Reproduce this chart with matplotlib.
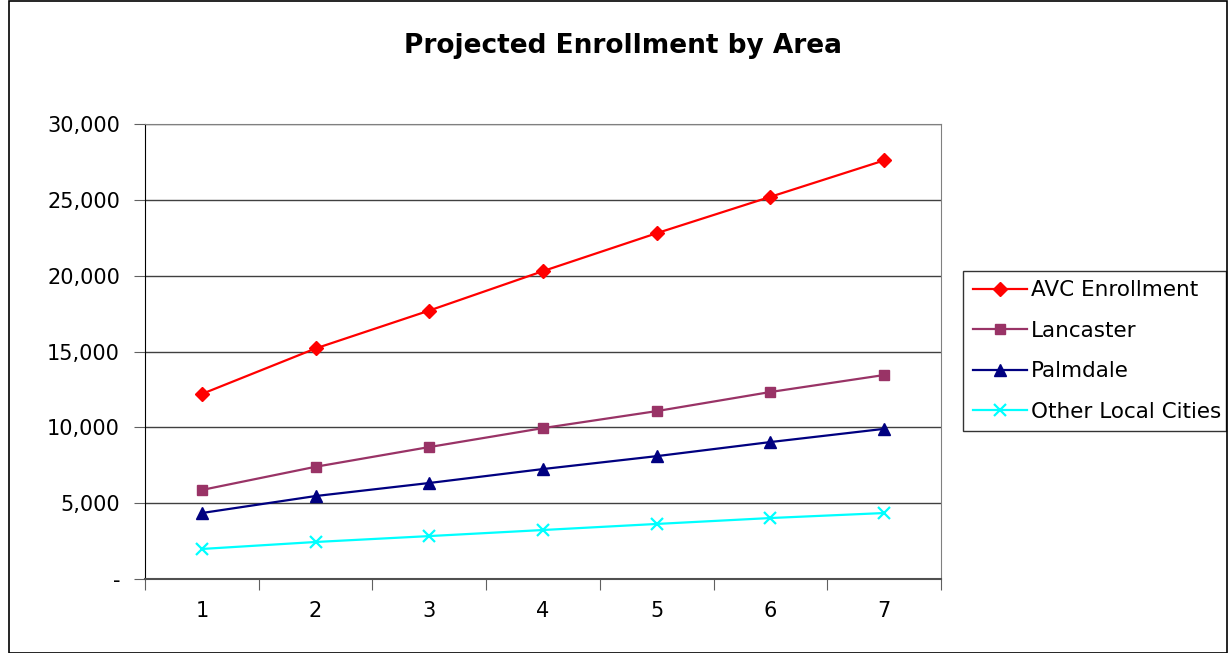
import matplotlib.pyplot as plt
from matplotlib.patches import Rectangle
from matplotlib.ticker import FuncFormatter

years = [1, 2, 3, 4, 5, 6, 7]
avc = [12200, 15200, 17700, 20300, 22800, 25200, 27600]
lancaster = [5870, 7400, 8700, 9950, 11070, 12330, 13450]
palmdale = [4350, 5470, 6330, 7250, 8100, 9030, 9900]
other = [1980, 2440, 2830, 3230, 3630, 4020, 4350]

plt.rcParams['font.family'] = ['DejaVu Sans']

W, H = 1228, 653
fig = plt.figure(figsize=(W / 100, H / 100), dpi=100)
fig.patches.append(Rectangle((9 / W, 0), 1 - 10 / W, 1 - 1 / H, transform=fig.transFigure,
                             fill=False, edgecolor='black', linewidth=1.2))

ax = fig.add_axes([145 / W, 1 - 579 / H, (941 - 145) / W, (579 - 124) / H])

ax.plot(years, avc, color='#ff0000', marker='D', markersize=7, lw=1.6, label='AVC Enrollment')
ax.plot(years, lancaster, color='#993366', marker='s', markersize=7, lw=1.6, label='Lancaster')
ax.plot(years, palmdale, color='#000080', marker='^', markersize=8, lw=1.6, label='Palmdale')
ax.plot(years, other, color='#00ffff', marker='x', markersize=9, mew=1.6, lw=1.6,
        label='Other Local Cities')

ax.set_xlim(0.5, 7.5)
ax.set_ylim(0, 30000)
ax.set_yticks(range(0, 30001, 5000))
ax.yaxis.set_major_formatter(FuncFormatter(lambda v, p: '-' if v == 0 else f'{int(v):,}'))
ax.set_xticks([i + 0.5 for i in range(0, 8)])
ax.set_xticklabels([])
ax.set_xticks(years, minor=True)
ax.set_xticklabels([str(y) for y in years], minor=True)
ax.tick_params(axis='x', which='major', length=8, direction='out', color='#606060')
ax.tick_params(axis='x', which='minor', length=0, labelsize=15, pad=16)
ax.tick_params(axis='y', length=8, direction='out', color='#606060', labelsize=15, pad=10)

ax.grid(axis='y', color='#404040', lw=1)
ax.set_axisbelow(True)
for s in ['top', 'right']:
    ax.spines[s].set_color('#808080')
ax.spines['bottom'].set_color('#505050')
ax.spines['bottom'].set_linewidth(1.5)
ax.spines['left'].set_color('black')

fig.text(623 / W, 1 - 46 / H, 'Projected Enrollment by Area', ha='center', va='center',
         fontsize=19, fontweight='bold')

leg = ax.legend(loc='center left', bbox_to_anchor=(963 / W, 1 - 432 / H, 263 / W, 162 / H),
                bbox_transform=fig.transFigure, mode='expand', fontsize=15.5, frameon=True,
                fancybox=False, edgecolor='black', handlelength=2.5, handletextpad=0.2,
                borderpad=0.45, labelspacing=0.95, borderaxespad=0)
leg.get_frame().set_linewidth(1)

fig.savefig('out.png', dpi=100)
